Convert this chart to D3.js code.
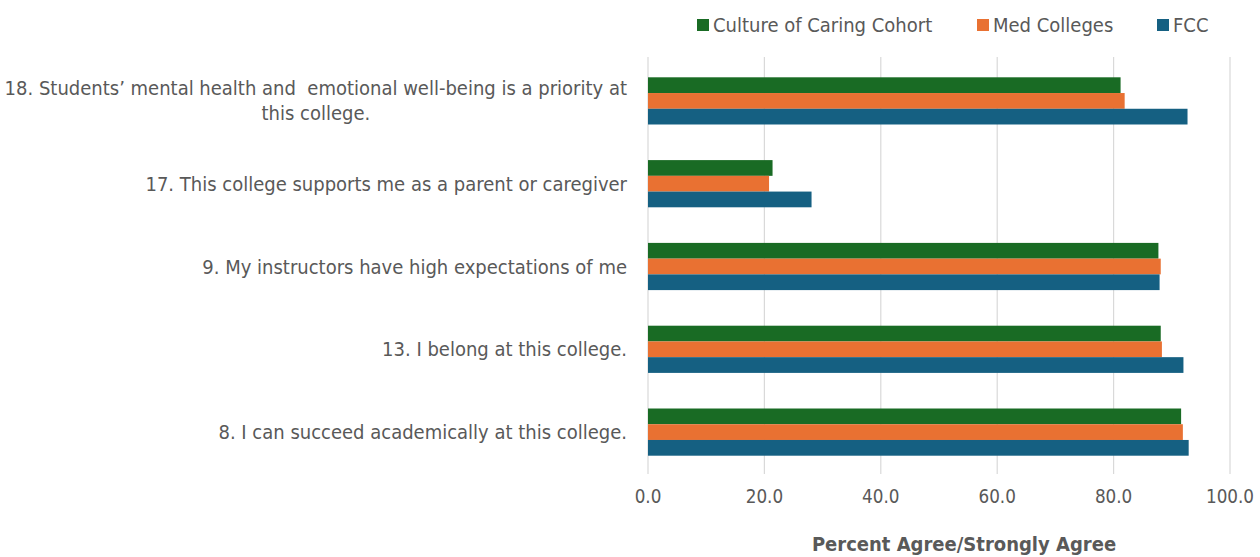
<!DOCTYPE html>
<html><head><meta charset="utf-8">
<script src="https://cdn.jsdelivr.net/npm/d3@7"></script>
<style>
html,body{margin:0;padding:0;background:#fff;}
svg{display:block;}
text{font-family:"Liberation Sans Narrow","DejaVu Sans Condensed","Roboto",sans-serif;fill:#595959;white-space:pre;}
</style></head>
<body>
<script>
const categories = [
  ["18. Students\u2019 mental health and  emotional well-being is a priority at", "this college."],
  ["17. This college supports me as a parent or caregiver"],
  ["9. My instructors have high expectations of me"],
  ["13. I belong at this college."],
  ["8. I can succeed academically at this college."]
];
const seriesNames = ["Culture of Caring Cohort", "Med Colleges", "FCC"];
const cohortValues = [81.2, 21.4, 87.7, 88.1, 91.6];
const medValues    = [81.9, 20.8, 88.1, 88.3, 91.9];
const fccValues    = [92.7, 28.1, 87.9, 92.0, 92.9];
const tickValues = [0, 20, 40, 60, 80, 100];
const axisTitle = "Percent Agree/Strongly Agree";

const colors = ["#196B24", "#E97132", "#156082"];
const series = [cohortValues, medValues, fccValues];

const W = 1260, H = 557;
const svg = d3.select("body").append("svg").attr("width", W).attr("height", H);

const x = d3.scaleLinear().domain([0, 100]).range([648, 1230]);
const y = d3.scaleBand().domain(d3.range(categories.length)).range([59.5, 473.5])
  .paddingInner(0.43).paddingOuter(0.215);
const ySub = d3.scaleBand().domain(d3.range(3)).range([0, y.bandwidth()]);

// gridlines
svg.append("g").selectAll("line").data(tickValues).join("line")
  .attr("x1", d => x(d)).attr("x2", d => x(d))
  .attr("y1", 57).attr("y2", 474)
  .attr("stroke", "#d9d9d9").attr("stroke-width", 1.2);

// bars
series.forEach((vals, si) => {
  svg.append("g").selectAll("rect").data(vals).join("rect")
    .attr("x", x(0))
    .attr("y", (d, i) => y(i) + ySub(si))
    .attr("width", d => x(d) - x(0))
    .attr("height", ySub.bandwidth())
    .attr("fill", colors[si]);
});

// tick labels
svg.append("g").selectAll("text").data(tickValues).join("text")
  .attr("x", d => x(d)).attr("y", 503)
  .attr("text-anchor", "middle")
  .style("font-size", "18.7px")
  .text(d => d.toFixed(1));

// axis title
svg.append("text").attr("x", 964).attr("y", 551)
  .attr("text-anchor", "middle")
  .style("font-size", "20px").style("font-weight", "bold")
  .text(axisTitle);

// category labels
const fs = 20;
categories.forEach((lines, i) => {
  const cy = y(i) + y.bandwidth() / 2;
  if (lines.length === 1) {
    svg.append("text").attr("x", 627).attr("y", cy + 7)
      .attr("text-anchor", "end").style("font-size", fs + "px").text(lines[0]);
  } else {
    const t = svg.append("text").attr("x", 627).attr("y", cy - 12.5 + 7)
      .attr("text-anchor", "end").style("font-size", fs + "px").text(lines[0]);
    const w = t.node().getComputedTextLength();
    svg.append("text").attr("x", 627 - w / 2).attr("y", cy + 12.5 + 7)
      .attr("text-anchor", "middle").style("font-size", fs + "px").text(lines[1]);
  }
});

// legend
const legendX = [697, 977, 1157];
seriesNames.forEach((n, i) => {
  svg.append("rect").attr("x", legendX[i]).attr("y", 19).attr("width", 12).attr("height", 12).attr("fill", colors[i]);
  svg.append("text").attr("x", legendX[i] + 16).attr("y", 32).style("font-size", "20px").text(n);
});
</script>
</body></html>
